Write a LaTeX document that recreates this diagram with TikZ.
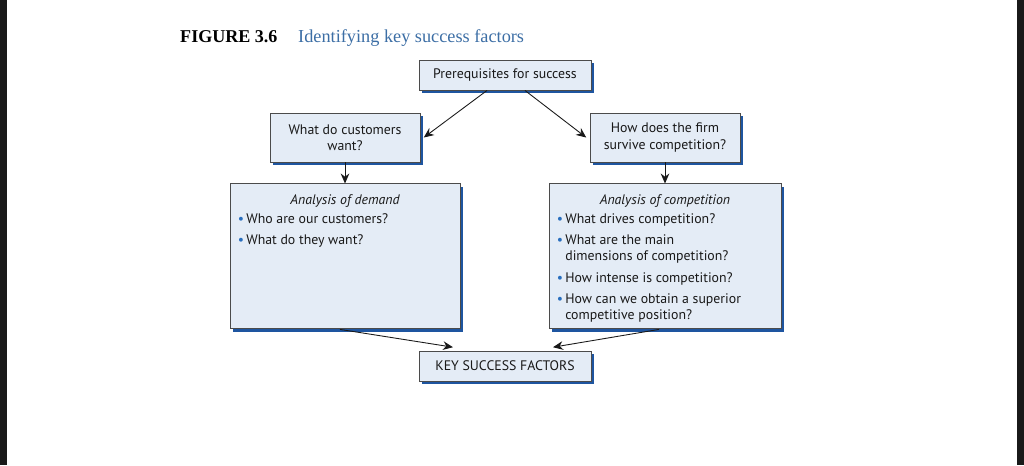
\documentclass[tikz,border=0pt]{standalone}
\usepackage{fontspec}
\setmainfont{Liberation Serif}
\newfontfamily\boxfont{PT Sans}
\usetikzlibrary{arrows.meta, positioning, shadows}
\definecolor{boxfill}{RGB}{228,236,246}
\definecolor{boxline}{RGB}{75,75,75}
\definecolor{shadowblue}{RGB}{30,85,160}
\definecolor{titleblue}{RGB}{60,110,165}
\definecolor{dotblue}{RGB}{40,110,190}
\newcommand{\dotitem}{{\color{dotblue}\textbullet}}
\tikzset{
    box/.style={
        rectangle,
        draw=boxline,
        line width=0.8pt,
        fill=boxfill,
        drop shadow={shadow xshift=0.09cm, shadow yshift=-0.09cm, fill=shadowblue, opacity=1},
        font=\boxfont\fontsize{11.8}{13.8}\selectfont,
        text=black!90,
        align=center,
        inner sep=0pt
    },
    boxtext/.style={
        inner sep=0pt,
        text=black!90,
        font=\boxfont\fontsize{11.8}{14}\selectfont
    },
    arrow/.style={
        -{Stealth[length=3mm, width=2.6mm]},
        line width=0.75pt,
        black!90
    }
}

\begin{document}
\begin{tikzpicture}[x=0.03cm, y=-0.03cm, node distance=0.63cm and 0cm]
    \useasboundingbox (0,0) rectangle (1024,465);
    \fill[black!90] (0,0) rectangle (7,465);
    \fill[black!90] (1017,0) rectangle (1024,465);

    % caption
    \node[anchor=base west, inner sep=0pt, font=\bfseries\fontsize{15.4}{17}\selectfont] (fignum) at (180,42) {FIGURE 3.6};
    \node[anchor=base west, inner sep=0pt, font=\fontsize{15.6}{17}\selectfont, text=titleblue] (figtitle) at (298,42) {Identifying key success factors};

    % boxes
    \node[box, minimum width=5.16cm, minimum height=0.9cm] (prereq) at (505,75) {Prerequisites for success};
    \node[box, minimum width=4.5cm, minimum height=1.47cm] (customers) at (345,137.5) {What do customers\\want?};
    \node[box, minimum width=4.5cm, minimum height=1.47cm] (firm) at (665,137.5) {How does the firm\\survive competition?};
    \node[box, minimum width=6.9cm, minimum height=4.35cm, below=of customers] (demand) {};
    \node[box, minimum width=6.96cm, minimum height=4.35cm, below=of firm] (compet) {};
    \node[box, minimum width=5.16cm, minimum height=0.9cm] (ksf) at (505,366) {KEY SUCCESS FACTORS};

    % box contents
    \node[boxtext, anchor=base, font=\boxfont\itshape\fontsize{11.8}{14}\selectfont] (demhead) at ([yshift=-0.63cm]demand.north) {Analysis of demand};
    \node[boxtext, anchor=base west] (demlist) at ([xshift=0.24cm, yshift=-1.2cm]demand.north west)
        {\begin{tabular}[t]{@{}l@{\,}l@{}}
            \dotitem & Who are our customers?\\[4pt]
            \dotitem & What do they want?
        \end{tabular}};
    \node[boxtext, anchor=base, font=\boxfont\itshape\fontsize{11.8}{14}\selectfont] (comphead) at ([yshift=-0.63cm]compet.north) {Analysis of competition};
    \node[boxtext, anchor=base west] (complist) at ([xshift=0.24cm, yshift=-1.2cm]compet.north west)
        {\begin{tabular}[t]{@{}l@{\,}l@{}}
            \dotitem & What drives competition?\\[4pt]
            \dotitem & What are the main\\
                     & dimensions of competition?\\[4pt]
            \dotitem & How intense is competition?\\[4pt]
            \dotitem & How can we obtain a superior\\
                     & competitive position?
        \end{tabular}};

    % connectors
    \draw[arrow] ([xshift=-0.54cm]prereq.south) -- ([xshift=0.1cm]customers.east);
    \draw[arrow] ([xshift=0.6cm]prereq.south) -- ([xshift=-0.1cm]firm.west);
    \draw[arrow] (customers) -- (demand);
    \draw[arrow] (firm) -- (compet);
    \draw[arrow] ([xshift=-0.15cm]demand.south) -- ([xshift=-1.56cm, yshift=0.1cm]ksf.north);
    \draw[arrow] ([xshift=-0.18cm]compet.south) -- ([xshift=1.44cm, yshift=0.1cm]ksf.north);
\end{tikzpicture}
\end{document}
